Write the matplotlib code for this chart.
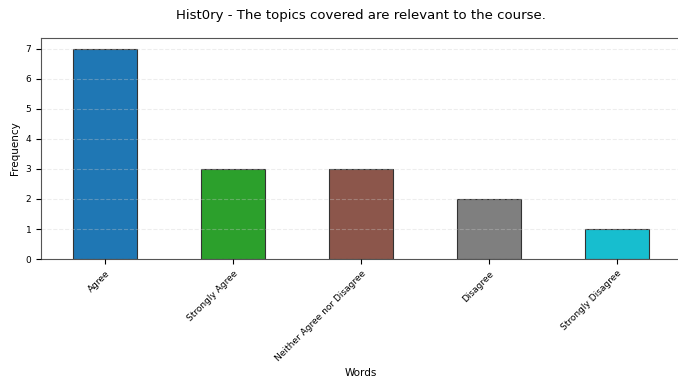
import matplotlib
matplotlib.use("Agg")
import matplotlib.pyplot as plt

categories = ["Agree", "Strongly Agree", "Neither Agree nor Disagree", "Disagree", "Strongly Disagree"]
values = [7, 3, 3, 2, 1]
colors = ["#1f77b4", "#2ca02c", "#8c564b", "#7f7f7f", "#17becf"]

fig = plt.figure(figsize=(6.78, 3.85), dpi=100)
ax = fig.add_axes([0.0605, 0.327, 0.944, 0.574])
x = range(len(categories))
ax.bar(x, values, width=0.5, color=colors, edgecolor="#333333", linewidth=0.8, zorder=2)
ax.set_xlim(-0.5, len(categories) - 0.5)
ax.set_ylim(0, 7.35)
ax.set_xticks(list(x))
ax.set_xticklabels(categories, rotation=45, ha="right", rotation_mode="anchor", fontsize=6.5)
ax.tick_params(axis="y", labelsize=6.5)
ax.yaxis.grid(True, linestyle="--", color="#cccccc", alpha=0.35, linewidth=0.8, zorder=3)
ax.set_axisbelow(False)
ax.set_xlabel("Words", fontsize=7.5, labelpad=3.5)
ax.set_ylabel("Frequency", fontsize=7.5)
ax.set_title("Hist0ry - The topics covered are relevant to the course.", fontsize=9.5, pad=14)
for s in ax.spines.values():
    s.set_color("#555555")
fig.savefig("out.png", dpi=100)
